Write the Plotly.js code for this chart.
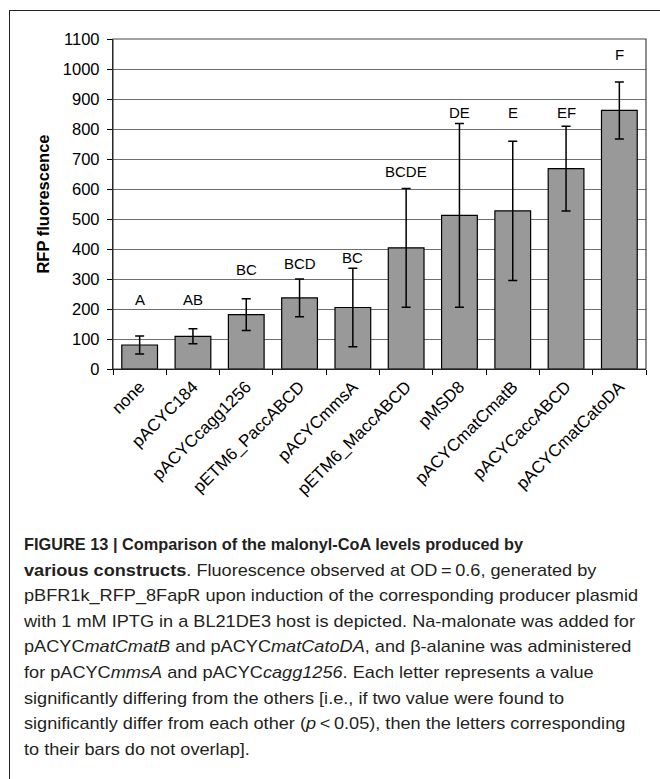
<!DOCTYPE html>
<html>
<head>
<meta charset="utf-8">
<script src="https://cdn.plot.ly/plotly-3.0.1.min.js"></script>
<style>
  html, body { margin: 0; padding: 0; background: #fff; }
  #wrap { position: relative; width: 660px; height: 779px; overflow: hidden; }
  #frame { position: absolute; left: 9px; top: 10px; right: -5px; bottom: -5px;
           border-left: 1.5px solid #222; border-top: 1.5px solid #222; }
  #chart { position: absolute; left: 0; top: 0; width: 660px; height: 779px; }
  #caption { position: absolute; left: 24px; top: 532px;
             font-family: "Liberation Sans Narrow", "Liberation Sans", Arial, sans-serif;
             font-size: 17px; line-height: 25.6px; color: #231f20; }
  #caption .ln { white-space: nowrap; transform-origin: left top; width: max-content; }
</style>
</head>
<body>
<div id="wrap">
  <div id="frame"></div>
  <div id="chart"></div>
  <div id="caption">
    <div class="ln" id="head"><b>FIGURE 13 | Comparison of the malonyl-CoA levels produced by</b></div>
    <div class="ln"><b>various constructs</b>. Fluorescence observed at OD&#8201;=&#8201;0.6, generated by</div>
    <div class="ln" id="ref">pBFR1k_RFP_8FapR upon induction of the corresponding producer plasmid</div>
    <div class="ln">with 1 mM IPTG in a BL21DE3 host is depicted. Na-malonate was added for</div>
    <div class="ln">pACYC<i>matCmatB</i> and pACYC<i>matCatoDA</i>, and β-alanine was administered</div>
    <div class="ln">for pACYC<i>mmsA</i> and pACYC<i>cagg1256</i>. Each letter represents a value</div>
    <div class="ln">significantly differing from the others [i.e., if two value were found to</div>
    <div class="ln">significantly differ from each other (<i>p</i>&#8201;&lt;&#8201;0.05), then the letters corresponding</div>
    <div class="ln">to their bars do not overlap].</div>
  </div>
</div>
<script>
  // constructs, mean RFP fluorescence and error
  var constructs = ['none', 'pACYC184', 'pACYCcagg1256', 'pETM6_PaccABCD', 'pACYCmmsA',
                    'pETM6_MaccABCD', 'pMSD8', 'pACYCmatCmatB', 'pACYCaccABCD', 'pACYCmatCatoDA'];
  var rfp = [80, 109, 181, 237, 205, 404, 512, 527, 668, 862];
  var rfpErr = [30, 25, 53, 63, 131, 198, 306, 232, 141, 95];

  // significance letters and the height they sit at
  var letters = ['A', 'AB', 'BC', 'BCD', 'BC', 'BCDE', 'DE', 'E', 'EF', 'F'];
  var letterY = [233, 233, 333, 353, 372, 659, 854, 854, 854, 1048];

  var yTicks = [0, 100, 200, 300, 400, 500, 600, 700, 800, 900, 1000, 1100];

  var bars = {
    x: constructs,
    y: rfp,
    type: 'bar',
    marker: { color: '#999999', line: { color: '#000', width: 1.2 } },
    error_y: { type: 'data', array: rfpErr, visible: true, color: '#000', thickness: 1.5, width: 4.5 },
    hoverinfo: 'x+y'
  };

  var notes = [];
  for (let i = 0; i < constructs.length; i++) {
    notes.push({
      x: constructs[i], y: letterY[i], xref: 'x', yref: 'y',
      text: letters[i], showarrow: false, yanchor: 'middle',
      font: { family: 'Liberation Sans, Arial, sans-serif', size: 15, color: '#000' }
    });
  }

  var layout = {
    width: 660,
    height: 779,
    margin: { l: 113, r: 14, t: 39, b: 410 },
    paper_bgcolor: 'rgba(0,0,0,0)',
    plot_bgcolor: '#fff',
    showlegend: false,
    bargap: 0.33,
    font: { family: 'Liberation Sans, Arial, sans-serif', color: '#000' },
    xaxis: {
      type: 'category',
      tickangle: -45,
      tickson: 'boundaries',
      ticks: 'outside', ticklen: 5, tickcolor: '#000',
      showline: true, linecolor: '#000', linewidth: 1.2,
      showgrid: false,
      tickfont: { size: 17, color: '#000' }
    },
    yaxis: {
      range: [0, 1100],
      tickvals: yTicks,
      ticks: 'outside', ticklen: 5, tickcolor: '#000',
      ticklabelstandoff: 4,
      showline: true, linecolor: '#000', linewidth: 1.2,
      gridcolor: '#6e6e6e', gridwidth: 1,
      zeroline: false,
      tickfont: { size: 16.5, color: '#000' },
      title: { text: '<b>RFP fluorescence</b>', font: { size: 16.5, color: '#000' }, standoff: 9 }
    },
    shapes: [{
      type: 'rect', xref: 'paper', yref: 'paper', x0: 0, x1: 1, y0: 0, y1: 1,
      line: { color: '#444', width: 1.2 }
    }],
    annotations: notes
  };

  Plotly.newPlot('chart', [bars], layout, { displayModeBar: false, staticPlot: true });

  // squeeze the caption so its lines span the same widths as in the printed figure
  var lines = document.querySelectorAll('#caption .ln');
  var w = document.getElementById('ref').getBoundingClientRect().width;
  var s = w > 0 ? 614 / w : 1;
  for (let i = 0; i < lines.length; i++) {
    lines[i].style.transform = 'scaleX(' + s.toFixed(3) + ')';
  }
  var head = document.getElementById('head');
  head.style.transform = 'none';
  var hw = head.getBoundingClientRect().width;
  if (hw > 0) head.style.transform = 'scaleX(' + (499 / hw).toFixed(3) + ')';
</script>
</body>
</html>
